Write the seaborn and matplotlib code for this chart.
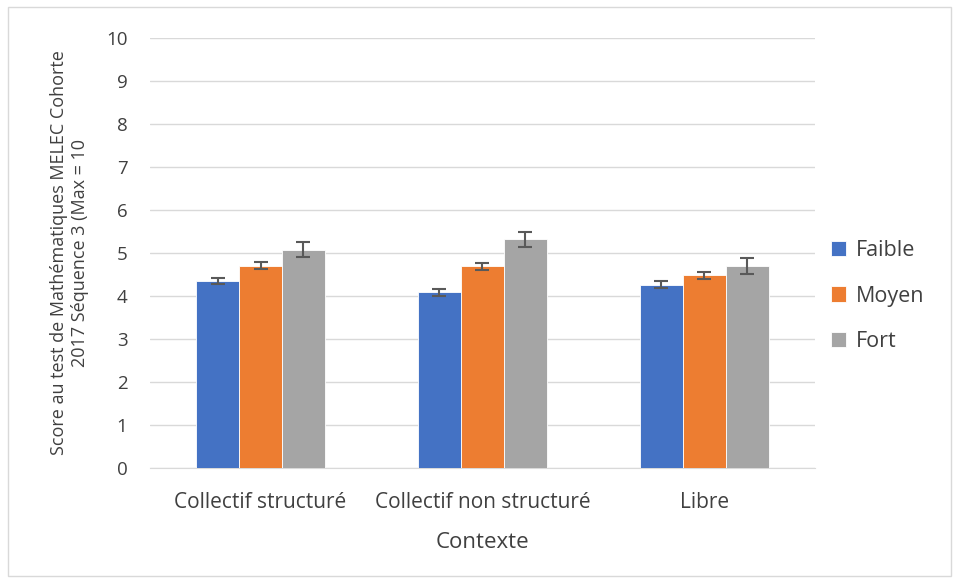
import pandas as pd
import numpy as np
import seaborn as sns
import matplotlib.pyplot as plt
from matplotlib.patches import Rectangle

# données
contextes = ['Collectif structuré', 'Collectif non structuré', 'Libre']
niveaux = ['Faible', 'Moyen', 'Fort']
faible = [4.35, 4.09, 4.26]
moyen = [4.70, 4.69, 4.48]
fort = [5.08, 5.32, 4.70]
err_faible = [0.08, 0.08, 0.08]
err_moyen = [0.08, 0.08, 0.08]
err_fort = [0.17, 0.18, 0.18]

rows = []
for niv, vals, errs in zip(niveaux, [faible, moyen, fort], [err_faible, err_moyen, err_fort]):
    for c, v, e in zip(contextes, vals, errs):
        rows.append({'Contexte': c, 'Niveau': niv, 'Score': v, 'Err': e})
df = pd.DataFrame(rows)

sns.set_style('white')
plt.rcParams['font.family'] = ['Open Sans', 'DejaVu Sans']

fig = plt.figure(figsize=(9.59, 5.83), dpi=100)
ax = fig.add_axes([0.156, 0.197, 0.694, 0.738])
couleurs = ['#4472C4', '#ED7D31', '#A5A5A5']
sns.barplot(data=df, x='Contexte', y='Score', hue='Niveau', palette=couleurs,
            saturation=1, width=0.58, edgecolor='white', linewidth=0.6, ax=ax, zorder=3)

# barres d'erreur
for cont, niv in zip(ax.containers, niveaux):
    sub = df[df['Niveau'] == niv]
    xs = [p.get_x() + p.get_width() / 2 for p in cont.patches]
    ax.errorbar(xs, sub['Score'], yerr=sub['Err'], fmt='none', ecolor='#595959',
                elinewidth=1.5, capsize=5, capthick=1.5, zorder=4)

ax.set_xlim(-0.5, len(contextes) - 0.5)
ax.set_ylim(0, 10)
ax.set_yticks(range(0, 11))
ax.grid(axis='y', color='#D9D9D9', linewidth=1, zorder=0)
for s in ['top', 'right', 'left']:
    ax.spines[s].set_visible(False)
ax.spines['bottom'].set_color('#D9D9D9')
ax.tick_params(axis='y', length=0, labelsize=13.5, colors='#404040', pad=16)
ax.tick_params(axis='x', length=0, labelsize=15, colors='#404040', pad=17)
ax.set_xlabel('Contexte', fontsize=16, color='#404040', labelpad=14)
ax.set_ylabel('Score au test de Mathématiques MELEC Cohorte\n2017 Séquence 3 (Max = 10',
              fontsize=13, color='#404040', labelpad=12)

ax.legend(loc='center left', bbox_to_anchor=(0.995, 0.40), frameon=False, fontsize=15.5,
          handlelength=0.7, handleheight=0.7, labelspacing=1.15, handletextpad=0.45,
          labelcolor='#404040')

fig.patches.append(Rectangle((0.008, 0.012), 0.984, 0.976, transform=fig.transFigure,
                             fill=False, edgecolor='#D9D9D9', linewidth=1))

plt.savefig('out.png', dpi=100)
